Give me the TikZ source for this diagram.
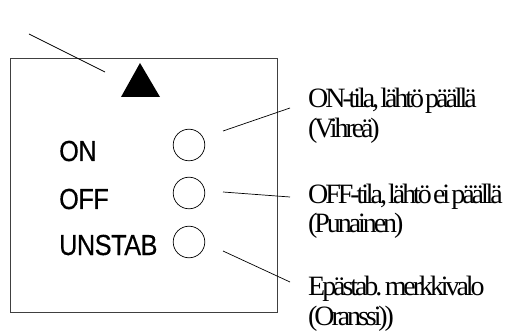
\documentclass[tikz,border=0pt]{standalone}
\usepackage{fontspec}
\newfontfamily\serifd[LetterSpace=-11,WordSpace=0.3]{Liberation Serif}
\newfontfamily\sansd[LetterSpace=-1.5,FakeStretch=0.87,FakeBold=0.4]{Liberation Sans}
\begin{document}
\begin{tikzpicture}[x=1pt,y=-1pt,
  leader/.style={draw=black, line width=0.7pt},
  led/.style={circle, draw=black, line width=0.7pt, minimum size=31.6pt, inner sep=0pt},
  lab/.style={anchor=base west, inner sep=0pt, font=\sansd\fontsize{29}{33}\selectfont},
  desc/.style={anchor=base west, inner sep=0pt, font=\serifd\fontsize{28}{32}\selectfont},
  panelbox/.style={draw=black!75, line width=0.8pt, minimum width=267pt, minimum height=254pt, inner sep=0pt}]
\useasboundingbox (0,0) rectangle (506,331);
% panel
\node[panelbox] (panel) at (143.5,185) {};
% triangle
\fill (140,63) -- (160,97) -- (121,97) -- cycle;
% top-left leader
\coordinate (tlA) at (29,34);
\coordinate (tlB) at (105,72);
\draw[leader] (tlA) -- (tlB);
% LEDs
\node[led] (c1) at (189,145) {};
\node[led] (c2) at (189,193) {};
\node[led] (c3) at (189,242) {};
% labels
\node[lab] (l1) at (59,161) {ON};
\node[lab] (l2) at (59,209) {OFF};
\node[lab] (l3) at (59,255) {UNSTAB};
% leaders to descriptions
\coordinate (a1) at (223,131); \coordinate (b1) at (290,108);
\coordinate (a2) at (223,192); \coordinate (b2) at (290,197);
\coordinate (a3) at (223,251); \coordinate (b3) at (290,282);
\draw[leader] (a1) -- (b1);
\draw[leader] (a2) -- (b2);
\draw[leader] (a3) -- (b3);
% descriptions
\node[desc] (d1a) at (308,108) {ON-tila, lähtö päällä};
\node[desc] (d1b) at (308,138) {(Vihreä)};
\node[desc] (d2a) at (308,204) {OFF-tila, lähtö ei päällä};
\node[desc] (d2b) at (308,233) {(Punainen)};
\node[desc] (d3a) at (308,295) {Epästab. merkkivalo};
\node[desc] (d3b) at (308,325) {(Oranssi))};
\end{tikzpicture}
\end{document}
